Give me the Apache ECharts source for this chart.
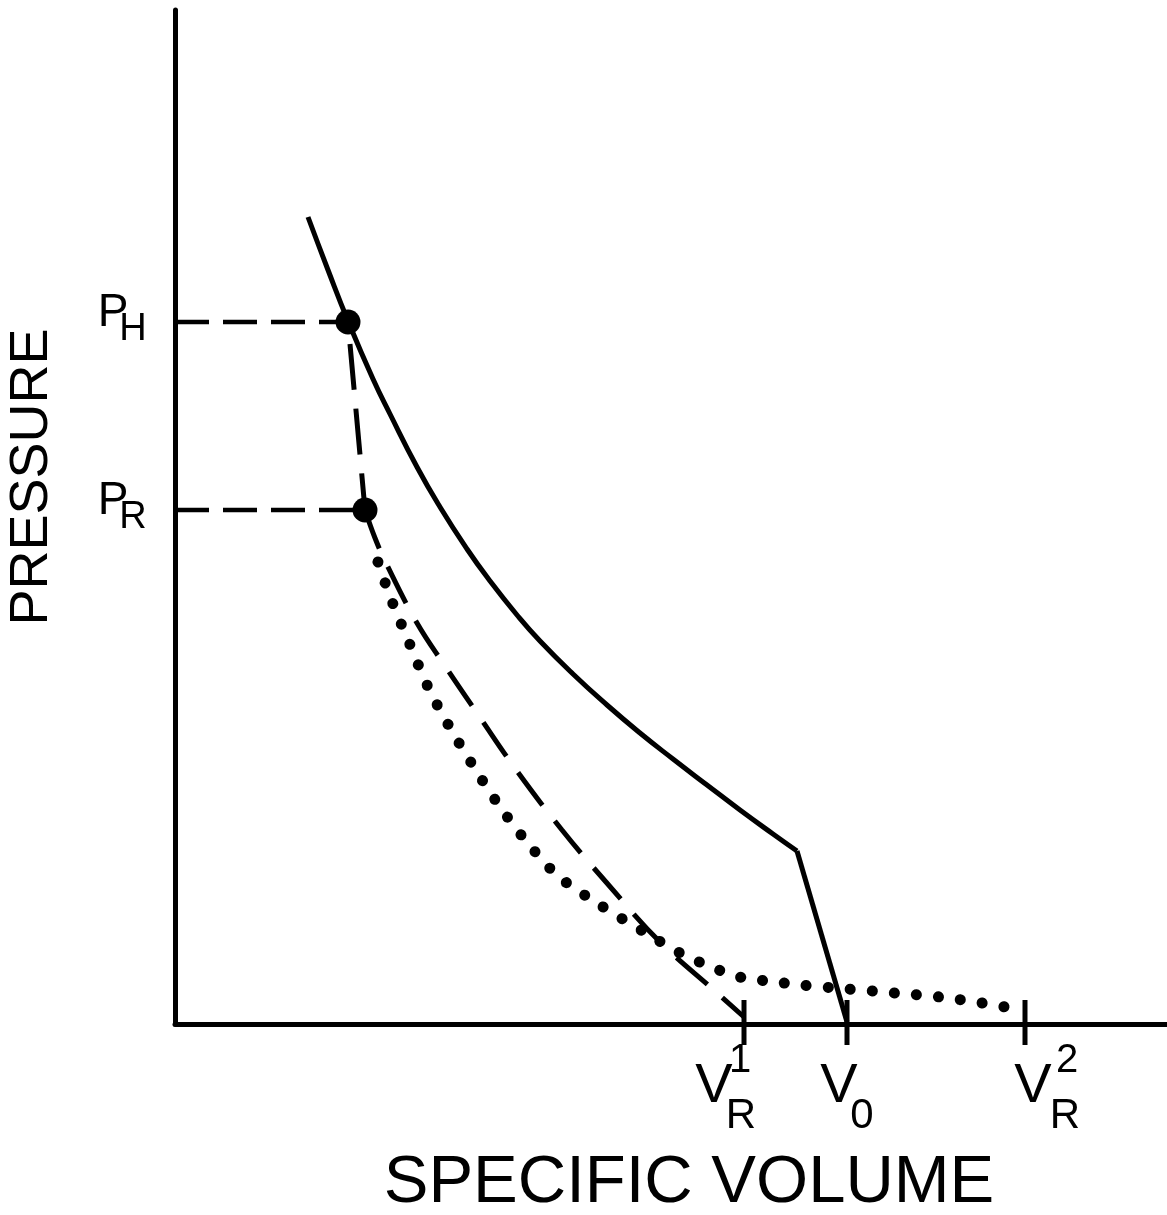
<!DOCTYPE html>
<html>
<head>
<meta charset="utf-8">
<script src="https://cdn.jsdelivr.net/npm/echarts@6/dist/echarts.min.js"></script>
<style>
html,body{margin:0;padding:0;background:#fff;}
#c{width:1167px;height:1215px;}
</style>
</head>
<body>
<div id="c"></div>
<script>
// ---- data (abstract volume / pressure units) ----
var hugoniotCurve = [[133,807],[153,754],[173,703],[198,645],[215,610],[242,557],[265,517],[292,475],[315,443],[342,409],[365,383],[398,350],[432,319],[465,291],[498,265],[532,239],[565,214],[598,190],[622,173]];
var hugoniotFoot = [[622,173],[672,2]];
var rayleighUpper = [[173,702],[190,514]];
var rayleighLower = [[190,514],[200,486],[211,461],[242,401],[270,358],[304,308],[342,253],[387,194],[431,142],[485,82],[541,32],[569,7]];
var releaseDotted = [[203,462],[216,425],[233,384],[253,337],[274,298],[297,260],[323,220],[351,183],[383,148],[425,119],[471,91],[505,71],[529,60],[552,51],[573,45],[593,43],[625,39],[673,35],[720,31],[765,27],[807,21],[847,14]];
var stateVolumes = [173,190];          // V at P_H, P_R
var statePressures = [702,514];        // P_H, P_R
var pressureMain = ['P','P'];
var pressureSub = ['H','R'];
var tickVolumes = [569,672,850];       // V_R^1, V_0, V_R^2
var tickMain = ['V','V','V'];
var tickSub = ['R','0','R'];
var tickSup = ['1','','2'];
var tickHalf = 21;

// ---- styles ----
var FONT = 'Liberation Sans';
var BLACK = '#000';
var tickMainNudge = [[-30,63],[-8,63],[8,63]];
var tickSubNudge = [[-3,92],[15,92],[40,92]];
var tickSupNudge = [[-4,37],[0,0],[42,37]];
var pMainNudge = [[-62,-9],[-62,-9]];
var pSubNudge = [[-42,8],[-42,8]];

function labelSeries(points, texts, nudges, size){
  return {
    type:'scatter', symbolSize:0, silent:true, clip:false, z:5,
    itemStyle:{opacity:1},
    data: points.map(function(p,i){
      return {value:p, label:{show:true, position:'inside', formatter:texts[i], offset:nudges[i],
        fontFamily:FONT, fontSize:size, color:BLACK, opacity:1, align:'center', verticalAlign:'middle'}};
    })
  };
}

var series = [];
series.push({type:'line', data:hugoniotCurve, smooth:0.5, symbol:'none', clip:false,
  lineStyle:{color:BLACK, width:5}});
series.push({type:'line', data:hugoniotFoot, symbol:'none', clip:false,
  lineStyle:{color:BLACK, width:5}});
series.push({type:'line', data:rayleighUpper, symbol:'none', clip:false,
  lineStyle:{color:BLACK, width:5, type:[46,19], dashOffset:-22}});
series.push({type:'line', data:rayleighLower, smooth:0.4, symbol:'none', clip:false,
  lineStyle:{color:BLACK, width:5, type:[41,20]}});
series.push({type:'line', data:releaseDotted, smooth:0.3, symbol:'none', clip:false,
  lineStyle:{color:BLACK, width:11, type:[0.1,22], cap:'round'}});
// horizontal guide lines to the pressure axis
stateVolumes.forEach(function(v,i){
  series.push({type:'line', data:[[0,statePressures[i]],[v,statePressures[i]]], symbol:'none', clip:false,
    lineStyle:{color:BLACK, width:4.5, type:[34,14]}});
});
// state points
series.push({type:'scatter', data:stateVolumes.map(function(v,i){return [v,statePressures[i]];}),
  symbolSize:25, itemStyle:{color:BLACK, opacity:1}, z:4});
// ticks on volume axis
tickVolumes.forEach(function(v){
  series.push({type:'line', data:[[v,tickHalf+3],[v,-tickHalf]], symbol:'none', clip:false,
    lineStyle:{color:BLACK, width:5}});
});
var tickPts = tickVolumes.map(function(v){return [v,0];});
series.push(labelSeries(tickPts, tickMain, tickMainNudge, 56));
series.push(labelSeries(tickPts, tickSub, tickSubNudge, 42));
series.push(labelSeries(tickPts, tickSup, tickSupNudge, 40));
var pPts = statePressures.map(function(p){return [0,p];});
series.push(labelSeries(pPts, pressureMain, pMainNudge, 46));
series.push(labelSeries(pPts, pressureSub, pSubNudge, 38));

var chart = echarts.init(document.getElementById('c'), null, {renderer:'canvas'});
chart.setOption({
  animation:false,
  backgroundColor:'#fff',
  grid:{left:175, top:10, width:992, height:1014, containLabel:false, outerBoundsMode:'none'},
  xAxis:{type:'value', min:0, max:992,
    name:'SPECIFIC VOLUME', nameLocation:'middle', nameGap:126,
    nameTextStyle:{fontFamily:FONT, fontSize:67, color:BLACK, padding:[0,0,0,36]},
    axisLine:{show:true, lineStyle:{color:BLACK, width:5}},
    axisTick:{show:false}, axisLabel:{show:false}, splitLine:{show:false}},
  yAxis:{type:'value', min:0, max:1014,
    name:'PRESSURE', nameLocation:'middle', nameGap:116, nameRotate:90,
    nameTextStyle:{fontFamily:FONT, fontSize:54, color:BLACK, padding:[0,0,0,80]},
    axisLine:{show:true, lineStyle:{color:BLACK, width:5}},
    axisTick:{show:false}, axisLabel:{show:false}, splitLine:{show:false}},
  series:series
});
</script>
</body>
</html>
